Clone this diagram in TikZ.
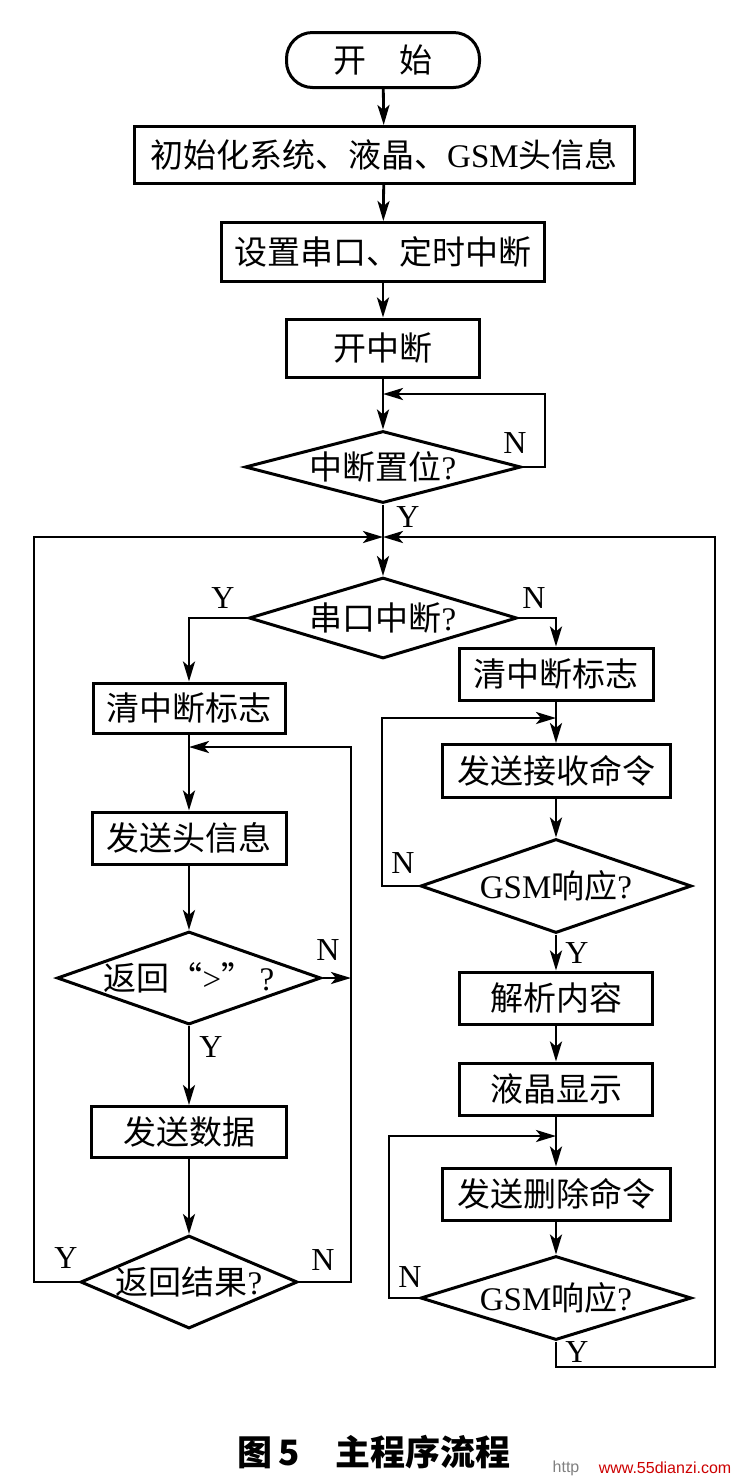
\documentclass[tikz,border=0pt]{standalone}
\usepackage{fontspec}
\setmainfont{Liberation Serif}
\newfontfamily\cjk{Noto Sans CJK SC}
\newfontfamily\wmfont{Liberation Sans}
\usetikzlibrary{shapes.geometric,arrows.meta}

\tikzset{
  base/.style={draw, line width=1.5pt, inner sep=0pt, font=\cjk\fontsize{16.5}{20}\selectfont},
  term/.style={base, rounded corners=13pt},
  proc/.style={base},
  decide/.style={base, diamond, inner sep=-3pt},
  flow/.style={line width=1.4pt, -{Stealth[length=10pt,width=6pt,inset=2.5pt]}},
  yn/.style={inner sep=0pt, font=\rmfamily\fontsize{16}{18}\selectfont},
}

\begin{document}
\begin{tikzpicture}[x=0.5pt,y=-0.5pt]
% Fix the page size (pixels of the reference)
\useasboundingbox (0,0) rectangle (731,1479);

% Main column
\node[term, minimum width=96.5pt, minimum height=27.5pt] (start) at (383,60) {开\hspace{1em}始};
\node[proc, minimum width=250pt, minimum height=28.5pt] (init) at (384,155) {初始化系统、液晶、{\rmfamily GSM}头信息};
\node[proc, minimum width=161.5pt, minimum height=29.5pt] (setser) at (383,252) {设置串口、定时中断};
\node[proc, minimum width=96.5pt, minimum height=29pt] (enint) at (383,348) {开中断};
\node[decide, minimum width=138pt, minimum height=36pt, aspect=3.8] (chk) at (383,467) {中断置位{\rmfamily ?}};
\node[decide, minimum width=134pt, minimum height=40.5pt, aspect=3.3] (ser) at (383,618) {串口中断{\rmfamily ?}};

% Left column (serial interrupt)
\node[proc, minimum width=96pt, minimum height=25pt] (clrL) at (189,708) {清中断标志};
\node[proc, minimum width=97pt, minimum height=26pt] (sendH) at (189,838) {发送头信息};
\node[decide, minimum width=132pt, minimum height=46.5pt, aspect=2.8] (retQ) at (189,978) {返回“{\rmfamily >}”{\rmfamily\,?}};
\node[proc, minimum width=97.5pt, minimum height=25.5pt] (sendD) at (189,1132) {发送数据};
\node[decide, minimum width=108.5pt, minimum height=46.5pt, aspect=2.3] (retR) at (189,1282) {返回结果{\rmfamily ?}};

% Right column (timer interrupt)
\node[proc, minimum width=97pt, minimum height=26pt] (clrR) at (556,674) {清中断标志};
\node[proc, minimum width=114pt, minimum height=26.5pt] (rcvCmd) at (556,771) {发送接收命令};
\node[decide, minimum width=135.5pt, minimum height=47pt, aspect=2.9] (gsm1) at (556,886) {{\rmfamily GSM}响应{\rmfamily ?}};
\node[proc, minimum width=96.5pt, minimum height=26pt] (parse) at (556,998) {解析内容};
\node[proc, minimum width=96.5pt, minimum height=26pt] (lcd) at (556,1089) {液晶显示};
\node[proc, minimum width=114pt, minimum height=26pt] (delCmd) at (556,1194) {发送删除命令};
\node[decide, minimum width=135.5pt, minimum height=42pt, aspect=3.2] (gsm2) at (556,1298) {{\rmfamily GSM}响应{\rmfamily ?}};

% Corner points of the loops
\coordinate (ca) at (545,394);
\coordinate (cb) at (383,394);
\coordinate (j1) at (383,537);
\coordinate (lo) at (34,537);
\coordinate (rb) at (715,1367);
\coordinate (ltc) at (351,747);
\coordinate (lt) at (189,747);
\coordinate (lq) at (351,978);
\coordinate (rtc) at (382,718);
\coordinate (rt) at (556,718);
\coordinate (dtc) at (389,1136);
\coordinate (dt) at (556,1136);

% Arrows
\draw[flow] (start) -- (init);
\draw[flow] (init) -- (setser);
\draw[flow] (setser) -- (enint);
\draw[flow] (enint) -- (chk);
\draw[flow] (chk.east) -| (ca) -- (cb);
\draw[flow] (chk) -- (ser);
\draw[flow] (ser.west) -| (clrL.north);
\draw[flow] (ser.east) -| (clrR.north);
\draw[flow] (clrL) -- (sendH);
\draw[flow] (sendH) -- (retQ);
\draw[flow] (retQ.east) -- (lq);
\draw[flow] (retQ) -- (sendD);
\draw[flow] (sendD) -- (retR);
\draw[flow] (retR.east) -| (ltc) -- (lt);
\draw[flow] (retR.west) -| (lo) -- (j1);
\draw[flow] (clrR) -- (rcvCmd);
\draw[flow] (rcvCmd) -- (gsm1);
\draw[flow] (gsm1.west) -| (rtc) -- (rt);
\draw[flow] (gsm1) -- (parse);
\draw[flow] (parse) -- (lcd);
\draw[flow] (lcd) -- (delCmd);
\draw[flow] (delCmd) -- (gsm2);
\draw[flow] (gsm2.west) -| (dtc) -- (dt);
\draw[flow] (gsm2.south) |- (rb) |- (j1);

% Y / N labels
\node[yn] (chkN) at (515,443) {N};
\node[yn] (chkY) at (408,517) {Y};
\node[yn] (serY) at (223,598) {Y};
\node[yn] (serN) at (534,598) {N};
\node[yn] (retQN) at (328,950) {N};
\node[yn] (retQY) at (211,1047) {Y};
\node[yn] (retRY) at (66,1258) {Y};
\node[yn] (retRN) at (323,1260) {N};
\node[yn] (gsm1N) at (403,863) {N};
\node[yn] (gsm1Y) at (577,953) {Y};
\node[yn] (gsm2N) at (410,1277) {N};
\node[yn] (gsm2Y) at (577,1352) {Y};

% Caption and watermark
\node[font=\cjk\bfseries\fontsize{17.5}{20}\selectfont] (cap) at (374,1452) {图\,5\hspace{1em}主程序流程};
\node[font=\wmfont\fontsize{8}{9}\selectfont, text=gray] (wm1) at (566,1468) {http};
\node[font=\wmfont\fontsize{8}{9}\selectfont, text=red!80!black] (wm2) at (665,1468) {www.55dianzi.com};
\end{tikzpicture}
\end{document}
